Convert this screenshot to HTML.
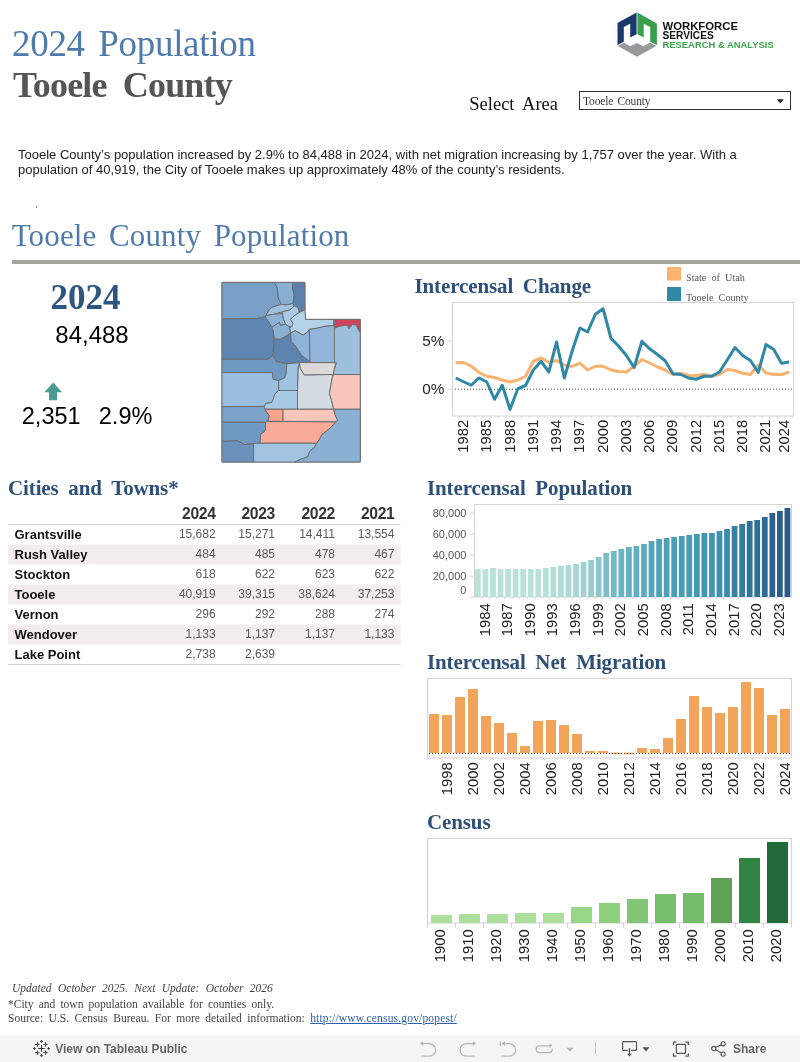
<!DOCTYPE html>
<html><head><meta charset="utf-8">
<style>
html,body{margin:0;padding:0;background:#fff;}
body{width:800px;height:1062px;position:relative;overflow:hidden;will-change:transform;font-family:"Liberation Sans", sans-serif;}
.a{position:absolute;white-space:nowrap;line-height:1;}
svg.full{position:absolute;left:0;top:0;}
</style></head><body>

<div class="a" style="left:12.00px;top:25.21px;font-size:37px;color:#4f7aab;font-family:'Liberation Serif', serif;font-weight:normal;font-style:normal;letter-spacing:-0.3px;word-spacing:4.5px;">2024 Population</div>
<div class="a" style="left:13.00px;top:66.85px;font-size:36px;color:#555555;font-family:'Liberation Serif', serif;font-weight:bold;font-style:normal;letter-spacing:-0.85px;">Tooele&nbsp; County</div>
<div class="a" style="left:469.30px;top:94.51px;font-size:18.5px;color:#111;font-family:'Liberation Serif', serif;font-weight:normal;font-style:normal;word-spacing:4px;">Select Area</div>
<div class="a" style="left:579px;top:91px;width:209.8px;height:17.3px;border:1px solid #333;background:#fff;"></div>
<div class="a" style="left:583.00px;top:96.07px;font-size:11.5px;color:#3a3a3a;font-family:'Liberation Serif', serif;font-weight:normal;font-style:normal;letter-spacing:-0.15px;word-spacing:1.5px;">Tooele County</div>
<svg class="full" width="800" height="1062">
<polygon points="776.8,99.2 783.8,99.2 780.3,103.2" fill="#222"/>
<polygon points="617.5,23 636.6,12.5 636.6,34.2 630.2,37.6 630.2,23.75 623.8,27.1 623.8,41.8 617.5,44.9" fill="#1b3a6b"/>
<polygon points="637.4,12.5 656.9,23.4 656.9,44.9 650.2,41.8 650.2,27.1 643.75,23.75 643.75,37.6 637.4,34.2" fill="#3a9f4a"/>
<polygon points="617.8,46 624,42.65 630.2,46.3 636.9,42.9 643.4,46.3 650.2,42.65 656.3,46 636.9,56.7" fill="#98999b"/>
</svg>
<svg class="full" width="800" height="1062">
<text x="662.5" y="30" font-family="'Liberation Sans', sans-serif" font-weight="bold" font-size="10.4" fill="#111" textLength="75.5" lengthAdjust="spacingAndGlyphs">WORKFORCE</text>
<text x="662.5" y="38.8" font-family="'Liberation Sans', sans-serif" font-weight="bold" font-size="10.4" fill="#111" textLength="51.3" lengthAdjust="spacingAndGlyphs">SERVICES</text>
<text x="662.5" y="48" font-family="'Liberation Sans', sans-serif" font-weight="bold" font-size="9.6" fill="#3fa34d" textLength="111.2" lengthAdjust="spacingAndGlyphs">RESEARCH &amp; ANALYSIS</text>
</svg>
<div class="a" style="left:18.00px;top:148.00px;font-size:13px;color:#222;font-family:'Liberation Sans', sans-serif;font-weight:normal;font-style:normal;">Tooele County’s population increased by 2.9% to 84,488 in 2024, with net migration increasing by 1,757 over the year. With a</div>
<div class="a" style="left:18.00px;top:163.00px;font-size:13px;color:#222;font-family:'Liberation Sans', sans-serif;font-weight:normal;font-style:normal;">population of 40,919, the City of Tooele makes up approximately 48% of the county’s residents.</div>
<div class="a" style="left:36px;top:206px;width:1px;height:2px;background:#888;"></div>
<div class="a" style="left:11.70px;top:219.74px;font-size:31px;color:#4f7aab;font-family:'Liberation Serif', serif;font-weight:normal;font-style:normal;word-spacing:4.6px;letter-spacing:0.15px;">Tooele County Population</div>
<div class="a" style="left:12px;top:260px;width:788px;height:4px;background:#a4a69a;"></div>
<div class="a" style="left:50.40px;top:280.29px;font-size:35px;color:#2f5581;font-family:'Liberation Serif', serif;font-weight:bold;font-style:normal;">2024</div>
<div class="a" style="left:55.30px;top:323.28px;font-size:24px;color:#000;font-family:'Liberation Sans', sans-serif;font-weight:normal;font-style:normal;">84,488</div>
<div class="a" style="left:21.80px;top:404.91px;font-size:23.5px;color:#000;font-family:'Liberation Sans', sans-serif;font-weight:normal;font-style:normal;">2,351</div>
<div class="a" style="left:98.80px;top:404.91px;font-size:23.5px;color:#000;font-family:'Liberation Sans', sans-serif;font-weight:normal;font-style:normal;">2.9%</div>
<svg class="full" width="800" height="1062">
<polygon points="53.2,382.6 62,392.3 57,392.3 57,400.2 49,400.2 49,392.3 44.4,392.3" fill="#4a9a91"/>
<polygon points="222,282.4 304.9,282.4 304.9,319.4 360.25,319.4 360.25,462 222,462" fill="#8ab0d4" stroke="#6e6e6e" stroke-width="1"/>
<g stroke="#6e6e6e" stroke-width="1" stroke-linejoin="round">
<polygon fill="#79a1c8" points="222,282.4 274.25,282.4 277.4,288 278,296.75 281.1,304.25 279.25,304.9 271.75,307.4 269.25,309.9 264.9,316.75 256.75,318.6 222,319"/>
<polygon fill="#88afd4" points="274.25,282.4 293,282.4 292.4,288 294.25,294.25 293,303.6 286.1,304.9 281.1,304.25 278,296.75 277.4,288"/>
<polygon fill="#5a81ab" points="293,282.4 304.9,282.4 304.9,309.9 299.25,312.4 298,307.4 294.25,306.1 293,303.6 294.25,294.25 292.4,288"/>
<polygon fill="#9fc1e0" points="279.25,304.9 281.1,304.25 286.1,304.9 293,303.6 294.25,306.1 289.9,309.9 282.4,311.75 273.6,314.25 266.75,315.5 264.9,316.75 269.25,309.9 271.75,307.4"/>
<polygon fill="#a9cae6" points="282.4,311.75 289.9,309.9 294.25,306.1 298,307.4 299.25,312.4 293,316.75 290.5,319.25 293,323.6 291.75,326.75 288.6,326.1 285.5,324.25 283.6,319.9 282.4,314.25"/>
<polygon fill="#8db3d7" points="264.9,316.75 266.75,315.5 273.6,314.25 282.4,313.6 283.6,319.9 285.5,324.25 280.5,325.5 279.25,322.4 271.75,327.4 269.25,323 266.1,318"/>
<polygon fill="#8ab0d4" points="271.75,327.4 279.25,322.4 280.5,325.5 285.5,324.25 288.6,326.1 289.9,328 290.5,333 286.1,336.1 280.5,339.25 274.25,339.25 273,330.5"/>
<polygon fill="#5e86b0" points="222,319 256.75,318.6 264.9,316.75 266.1,318 269.25,323 271.75,327.4 273,330.5 274.25,339.25 273.6,346.75 273,355.5 268,359.25 222,359.25"/>
<polygon fill="#5d84ae" points="274.25,339.25 280.5,339.25 286.1,336.1 290.5,333 291.25,341.25 295,345 298.1,350 301.9,355.6 306.25,358.75 310.5,361 310.5,362.6 299.4,362.6 290,363.5 286.75,363.9 280.5,362.5 276,361 273,355.5 273.6,346.75"/>
<polygon fill="#8db3d6" points="290.5,333 295,330.6 300,333.1 303.1,335 307.5,331.9 309.4,329.4 310,361.9 306.25,358.75 301.9,355.6 298.1,350 295,345 291.25,341.25"/>
<polygon fill="#b3d2ea" points="305.6,319.4 333.75,319.4 333.75,325.6 325,326.25 317.5,328.1 309.4,329.4 307.5,331.9 303.1,335 300,333.1 295,330.6 290.5,333 289.9,328 291.75,326.75 293,323.6 290.5,319.25 293,316.75 299.25,312.4 304.9,309.9"/>
<polygon fill="#d0435d" points="334.4,319.4 360.25,319.4 360.25,332.5 358.1,329.4 356.25,325 352.5,324.4 348.75,328.75 347.5,325 340,326.25 334.4,328.1"/>
<polygon fill="#9dc0de" points="334.4,328.1 340,326.25 347.5,325 348.75,328.75 352.5,324.4 356.25,325 358.1,329.4 360.25,332.5 360.25,375 333.75,375 333.1,372.5 336.25,363.75 334.4,362.6"/>
<polygon fill="#91b6da" points="309.4,329.4 317.5,328.1 325,326.25 333.75,325.6 334.4,328.1 334.4,362.6 310.5,362.6 310,361.9"/>
<polygon fill="#ddd9d8" points="299.4,362.6 336.25,362.6 335,365.75 333.1,374.5 304.4,375.1 300,368.25"/>
<polygon fill="#d5dbe2" points="299.4,362.6 300,368.25 304.4,375.1 333.1,374.5 331.9,380 329.4,393.25 331.25,399.5 333.75,409.25 297.5,409.25 297.5,390.5 298,368"/>
<polygon fill="#f7c6bb" points="333.1,374.5 360.25,374.5 360.25,409.25 333.75,409.25 331.25,399.5 329.4,393.25 331.9,380"/>
<polygon fill="#6f98c2" points="222,359.25 268,359.25 273,355.5 276,361 280.5,362.5 286.75,363.9 286.1,374.5 284.25,378.25 278.6,380.5 273,379.5 272.4,372.6 222,372.6"/>
<polygon fill="#9fc2e0" points="286.75,363.9 290,363.5 299.4,362.6 298,368 297.5,390.5 278.6,390.5 278.6,380.5 284.25,378.25 286.1,374.5"/>
<polygon fill="#9bbfdf" points="222,372.6 272.4,372.6 273,379.5 278.6,380.5 278.6,390.5 274.9,393.9 273,399.5 271.75,402.6 266.1,403.25 264.25,406.4 222,406.75"/>
<polygon fill="#a6c9e6" points="278.6,390.5 297.5,390.5 297.5,409.25 264.9,409.25 264.25,406.4 266.1,403.25 271.75,402.6 273,399.5 274.9,393.9"/>
<polygon fill="#7ba3c9" points="222,406.75 264.25,406.4 264.9,409.25 269.25,415.75 268,422.3 222,422.3"/>
<polygon fill="#f9a28c" points="264.9,409.25 283.1,409.25 283.1,421.4 268,421.4 269.25,415.75"/>
<polygon fill="#f6c6bb" points="283.1,409.25 333.75,409.25 335,414.5 337.5,420.1 335.6,422 283.1,421.4"/>
<polygon fill="#f8aa98" points="268,421.4 283.1,421.4 335.6,422 331.25,427 326.25,431.4 321.9,434.5 320,438.25 316.9,443.25 259.9,443.25 260.5,434.25 265.5,430.5 265.5,422.3"/>
<polygon fill="#7099c3" points="222,422.3 265.5,422.3 265.5,430.5 260.5,434.25 259.9,443.25 253.6,443.9 244.25,444.5 237.4,440.75 222,441.4"/>
<polygon fill="#6a91bb" points="222,441.4 237.4,440.75 244.25,444.5 253.6,443.9 253.6,462 222,462"/>
<polygon fill="#a0c3e1" points="253.6,443.25 316.9,443.25 313.75,448.25 310,450.75 307.5,457 300,459.5 295,462 253.6,462"/>
<polygon fill="#8ab1d4" points="333.75,409.25 360.25,409.25 360.25,462 295,462 300,459.5 307.5,457 310,450.75 313.75,448.25 316.9,443.25 320,438.25 321.9,434.5 326.25,431.4 331.25,427 335.6,422 337.5,420.1 335,414.5"/>
</g>
<rect x="452.5" y="302.5" width="341" height="113.5" fill="none" stroke="#d4d4d4" stroke-width="1"/>
<line x1="447.3" y1="341.1" x2="452.5" y2="341.1" stroke="#d4d4d4" stroke-width="1"/>
<line x1="447.3" y1="389.2" x2="452.5" y2="389.2" stroke="#d4d4d4" stroke-width="1"/>
<line x1="455" y1="389.2" x2="793" y2="389.2" stroke="#444" stroke-width="1" stroke-dasharray="1 2"/>
<polyline fill="none" stroke="#f9b26f" stroke-width="3" stroke-linejoin="round" points="455.75,362.75 463.51,362.5 471.26,366.25 479.02,372.5 486.77,376.25 494.53,377.5 502.29,380 510.04,382 517.80,380 525.55,376.25 533.31,361.25 541.07,358 548.82,362.5 556.58,360.5 564.33,365 572.09,366.5 579.85,363 587.60,370 595.36,366.25 603.11,366.25 610.87,370 618.63,371.5 626.38,372 634.14,366.25 641.89,359.5 649.65,363 657.41,367 665.16,370 672.92,374.5 680.67,373.25 688.43,375.5 696.19,375.75 703.94,374.25 711.70,376.25 719.45,374.25 727.21,369.5 734.97,370.5 742.72,373.25 750.48,374.5 758.23,365 765.99,373 773.75,374.5 781.50,374.5 789.26,372"/>
<polyline fill="none" stroke="#2f88a6" stroke-width="3" stroke-linejoin="round" points="455.75,378 463.51,381.75 471.26,385.25 479.02,378 486.77,382 494.53,399.25 502.29,385.25 510.04,409.5 517.80,388.75 525.55,385.5 533.31,370 541.07,361.25 548.82,372 556.58,342 564.33,378 572.09,351.25 579.85,328 587.60,332 595.36,314.25 603.11,308.75 610.87,338 618.63,346.25 626.38,355.5 634.14,367.5 641.89,341.25 649.65,348.75 657.41,354.5 665.16,360.75 672.92,373.75 680.67,374.5 688.43,378 696.19,379.25 703.94,376.25 711.70,376.25 719.45,372 727.21,360 734.97,347.5 742.72,355.5 750.48,360.5 758.23,372.5 765.99,344.5 773.75,349.5 781.50,363.25 789.26,362"/>
<line x1="459.63" y1="416" x2="459.63" y2="418" stroke="#d4d4d4" stroke-width="1"/>
<line x1="467.38" y1="416" x2="467.38" y2="418" stroke="#d4d4d4" stroke-width="1"/>
<line x1="475.14" y1="416" x2="475.14" y2="418" stroke="#d4d4d4" stroke-width="1"/>
<line x1="482.90" y1="416" x2="482.90" y2="418" stroke="#d4d4d4" stroke-width="1"/>
<line x1="490.65" y1="416" x2="490.65" y2="418" stroke="#d4d4d4" stroke-width="1"/>
<line x1="498.41" y1="416" x2="498.41" y2="418" stroke="#d4d4d4" stroke-width="1"/>
<line x1="506.16" y1="416" x2="506.16" y2="418" stroke="#d4d4d4" stroke-width="1"/>
<line x1="513.92" y1="416" x2="513.92" y2="418" stroke="#d4d4d4" stroke-width="1"/>
<line x1="521.68" y1="416" x2="521.68" y2="418" stroke="#d4d4d4" stroke-width="1"/>
<line x1="529.43" y1="416" x2="529.43" y2="418" stroke="#d4d4d4" stroke-width="1"/>
<line x1="537.19" y1="416" x2="537.19" y2="418" stroke="#d4d4d4" stroke-width="1"/>
<line x1="544.94" y1="416" x2="544.94" y2="418" stroke="#d4d4d4" stroke-width="1"/>
<line x1="552.70" y1="416" x2="552.70" y2="418" stroke="#d4d4d4" stroke-width="1"/>
<line x1="560.46" y1="416" x2="560.46" y2="418" stroke="#d4d4d4" stroke-width="1"/>
<line x1="568.21" y1="416" x2="568.21" y2="418" stroke="#d4d4d4" stroke-width="1"/>
<line x1="575.97" y1="416" x2="575.97" y2="418" stroke="#d4d4d4" stroke-width="1"/>
<line x1="583.72" y1="416" x2="583.72" y2="418" stroke="#d4d4d4" stroke-width="1"/>
<line x1="591.48" y1="416" x2="591.48" y2="418" stroke="#d4d4d4" stroke-width="1"/>
<line x1="599.24" y1="416" x2="599.24" y2="418" stroke="#d4d4d4" stroke-width="1"/>
<line x1="606.99" y1="416" x2="606.99" y2="418" stroke="#d4d4d4" stroke-width="1"/>
<line x1="614.75" y1="416" x2="614.75" y2="418" stroke="#d4d4d4" stroke-width="1"/>
<line x1="622.50" y1="416" x2="622.50" y2="418" stroke="#d4d4d4" stroke-width="1"/>
<line x1="630.26" y1="416" x2="630.26" y2="418" stroke="#d4d4d4" stroke-width="1"/>
<line x1="638.02" y1="416" x2="638.02" y2="418" stroke="#d4d4d4" stroke-width="1"/>
<line x1="645.77" y1="416" x2="645.77" y2="418" stroke="#d4d4d4" stroke-width="1"/>
<line x1="653.53" y1="416" x2="653.53" y2="418" stroke="#d4d4d4" stroke-width="1"/>
<line x1="661.28" y1="416" x2="661.28" y2="418" stroke="#d4d4d4" stroke-width="1"/>
<line x1="669.04" y1="416" x2="669.04" y2="418" stroke="#d4d4d4" stroke-width="1"/>
<line x1="676.80" y1="416" x2="676.80" y2="418" stroke="#d4d4d4" stroke-width="1"/>
<line x1="684.55" y1="416" x2="684.55" y2="418" stroke="#d4d4d4" stroke-width="1"/>
<line x1="692.31" y1="416" x2="692.31" y2="418" stroke="#d4d4d4" stroke-width="1"/>
<line x1="700.06" y1="416" x2="700.06" y2="418" stroke="#d4d4d4" stroke-width="1"/>
<line x1="707.82" y1="416" x2="707.82" y2="418" stroke="#d4d4d4" stroke-width="1"/>
<line x1="715.58" y1="416" x2="715.58" y2="418" stroke="#d4d4d4" stroke-width="1"/>
<line x1="723.33" y1="416" x2="723.33" y2="418" stroke="#d4d4d4" stroke-width="1"/>
<line x1="731.09" y1="416" x2="731.09" y2="418" stroke="#d4d4d4" stroke-width="1"/>
<line x1="738.84" y1="416" x2="738.84" y2="418" stroke="#d4d4d4" stroke-width="1"/>
<line x1="746.60" y1="416" x2="746.60" y2="418" stroke="#d4d4d4" stroke-width="1"/>
<line x1="754.36" y1="416" x2="754.36" y2="418" stroke="#d4d4d4" stroke-width="1"/>
<line x1="762.11" y1="416" x2="762.11" y2="418" stroke="#d4d4d4" stroke-width="1"/>
<line x1="769.87" y1="416" x2="769.87" y2="418" stroke="#d4d4d4" stroke-width="1"/>
<line x1="777.62" y1="416" x2="777.62" y2="418" stroke="#d4d4d4" stroke-width="1"/>
<line x1="785.38" y1="416" x2="785.38" y2="418" stroke="#d4d4d4" stroke-width="1"/>
<line x1="793.14" y1="416" x2="793.14" y2="418" stroke="#d4d4d4" stroke-width="1"/>
<text x="444.3" y="346.1" font-family="'Liberation Sans', sans-serif" font-size="15.3" fill="#222" text-anchor="end">5%</text>
<text x="444.3" y="393.9" font-family="'Liberation Sans', sans-serif" font-size="15.3" fill="#222" text-anchor="end">0%</text>
<text transform="translate(468.01,419.8) rotate(-90)" font-family="'Liberation Sans', sans-serif" font-size="14.8" fill="#222" text-anchor="end">1982</text>
<text transform="translate(491.27,419.8) rotate(-90)" font-family="'Liberation Sans', sans-serif" font-size="14.8" fill="#222" text-anchor="end">1985</text>
<text transform="translate(514.54,419.8) rotate(-90)" font-family="'Liberation Sans', sans-serif" font-size="14.8" fill="#222" text-anchor="end">1988</text>
<text transform="translate(537.81,419.8) rotate(-90)" font-family="'Liberation Sans', sans-serif" font-size="14.8" fill="#222" text-anchor="end">1991</text>
<text transform="translate(561.08,419.8) rotate(-90)" font-family="'Liberation Sans', sans-serif" font-size="14.8" fill="#222" text-anchor="end">1994</text>
<text transform="translate(584.35,419.8) rotate(-90)" font-family="'Liberation Sans', sans-serif" font-size="14.8" fill="#222" text-anchor="end">1997</text>
<text transform="translate(607.61,419.8) rotate(-90)" font-family="'Liberation Sans', sans-serif" font-size="14.8" fill="#222" text-anchor="end">2000</text>
<text transform="translate(630.88,419.8) rotate(-90)" font-family="'Liberation Sans', sans-serif" font-size="14.8" fill="#222" text-anchor="end">2003</text>
<text transform="translate(654.15,419.8) rotate(-90)" font-family="'Liberation Sans', sans-serif" font-size="14.8" fill="#222" text-anchor="end">2006</text>
<text transform="translate(677.42,419.8) rotate(-90)" font-family="'Liberation Sans', sans-serif" font-size="14.8" fill="#222" text-anchor="end">2009</text>
<text transform="translate(700.69,419.8) rotate(-90)" font-family="'Liberation Sans', sans-serif" font-size="14.8" fill="#222" text-anchor="end">2012</text>
<text transform="translate(723.95,419.8) rotate(-90)" font-family="'Liberation Sans', sans-serif" font-size="14.8" fill="#222" text-anchor="end">2015</text>
<text transform="translate(747.22,419.8) rotate(-90)" font-family="'Liberation Sans', sans-serif" font-size="14.8" fill="#222" text-anchor="end">2018</text>
<text transform="translate(770.49,419.8) rotate(-90)" font-family="'Liberation Sans', sans-serif" font-size="14.8" fill="#222" text-anchor="end">2021</text>
<text transform="translate(789.16,419.8) rotate(-90)" font-family="'Liberation Sans', sans-serif" font-size="14.8" fill="#222" text-anchor="end">2024</text>
<rect x="667" y="267" width="14" height="13.6" fill="#f9b26f"/>
<rect x="667" y="287" width="14" height="14" fill="#2f88a6"/>
<text x="686" y="280.6" font-family="'Liberation Serif', serif" font-size="10.2" fill="#555" word-spacing="2.5">State of Utah</text>
<text x="686" y="300.6" font-family="'Liberation Serif', serif" font-size="10.2" fill="#555" word-spacing="2.5">Tooele County</text>
<rect x="474.5" y="504.5" width="317" height="92.5" fill="none" stroke="#d4d4d4" stroke-width="1"/>
<line x1="469.5" y1="513.25" x2="474.5" y2="513.25" stroke="#d4d4d4" stroke-width="1"/>
<text x="466.4" y="517.05" font-family="'Liberation Sans', sans-serif" font-size="11" fill="#555" text-anchor="end">80,000</text>
<line x1="469.5" y1="534.25" x2="474.5" y2="534.25" stroke="#d4d4d4" stroke-width="1"/>
<text x="466.4" y="538.05" font-family="'Liberation Sans', sans-serif" font-size="11" fill="#555" text-anchor="end">60,000</text>
<line x1="469.5" y1="555.25" x2="474.5" y2="555.25" stroke="#d4d4d4" stroke-width="1"/>
<text x="466.4" y="559.05" font-family="'Liberation Sans', sans-serif" font-size="11" fill="#555" text-anchor="end">40,000</text>
<line x1="469.5" y1="576.25" x2="474.5" y2="576.25" stroke="#d4d4d4" stroke-width="1"/>
<text x="466.4" y="580.05" font-family="'Liberation Sans', sans-serif" font-size="11" fill="#555" text-anchor="end">20,000</text>
<text x="466.4" y="593.7" font-family="'Liberation Sans', sans-serif" font-size="11" fill="#555" text-anchor="end">0</text>
<line x1="469.5" y1="597" x2="474.5" y2="597" stroke="#d4d4d4" stroke-width="1"/>
<rect x="475.0" y="569" width="5.75" height="28" fill="#bae3d8"/>
<rect x="482.55" y="569" width="5.75" height="28" fill="#bae3d8"/>
<rect x="490.1" y="568" width="5.75" height="29" fill="#b6e1d7"/>
<rect x="497.65" y="569" width="5.75" height="28" fill="#bae3d8"/>
<rect x="505.2" y="569" width="5.75" height="28" fill="#bae3d8"/>
<rect x="512.75" y="569" width="5.75" height="28" fill="#bae3d8"/>
<rect x="520.3" y="569" width="5.75" height="28" fill="#bae3d8"/>
<rect x="527.85" y="569" width="5.75" height="28" fill="#bae3d8"/>
<rect x="535.4" y="569" width="5.75" height="28" fill="#bae3d8"/>
<rect x="542.95" y="568" width="5.75" height="29" fill="#b6e1d7"/>
<rect x="550.5" y="567" width="5.75" height="30" fill="#b2ded6"/>
<rect x="558.05" y="566" width="5.75" height="31" fill="#afdcd5"/>
<rect x="565.6" y="565" width="5.75" height="32" fill="#abd9d4"/>
<rect x="573.15" y="564" width="5.75" height="33" fill="#a7d7d3"/>
<rect x="580.7" y="562" width="5.75" height="35" fill="#a0d2d2"/>
<rect x="588.25" y="560" width="5.75" height="37" fill="#98cdd0"/>
<rect x="595.8" y="557" width="5.75" height="40" fill="#8dc5cd"/>
<rect x="603.35" y="553" width="5.75" height="44" fill="#7cbdc8"/>
<rect x="610.9" y="551" width="5.75" height="46" fill="#73b9c6"/>
<rect x="618.45" y="549" width="5.75" height="48" fill="#6bb4c3"/>
<rect x="626.0" y="547" width="5.75" height="50" fill="#65b0c1"/>
<rect x="633.55" y="546" width="5.75" height="51" fill="#63afc0"/>
<rect x="641.1" y="544" width="5.75" height="53" fill="#5dabbe"/>
<rect x="648.65" y="541" width="5.75" height="56" fill="#55a5ba"/>
<rect x="656.2" y="539" width="5.75" height="58" fill="#50a1b8"/>
<rect x="663.75" y="538" width="5.75" height="59" fill="#4ea0b7"/>
<rect x="671.3" y="537" width="5.75" height="60" fill="#4b9eb6"/>
<rect x="678.85" y="536" width="5.75" height="61" fill="#489cb5"/>
<rect x="686.4" y="535" width="5.75" height="62" fill="#469ab4"/>
<rect x="693.95" y="534" width="5.75" height="63" fill="#4398b3"/>
<rect x="701.5" y="533" width="5.75" height="64" fill="#4196b2"/>
<rect x="709.05" y="533" width="5.75" height="64" fill="#4196b2"/>
<rect x="716.6" y="531" width="5.75" height="66" fill="#3d91ae"/>
<rect x="724.15" y="529" width="5.75" height="68" fill="#3b8baa"/>
<rect x="731.7" y="526" width="5.75" height="71" fill="#3782a4"/>
<rect x="739.25" y="524" width="5.75" height="73" fill="#347ca0"/>
<rect x="746.8" y="521" width="5.75" height="76" fill="#30729a"/>
<rect x="754.35" y="520" width="5.75" height="77" fill="#2f7098"/>
<rect x="761.9" y="517" width="5.75" height="80" fill="#2e6a93"/>
<rect x="769.45" y="513" width="5.75" height="84" fill="#2d628d"/>
<rect x="777.0" y="511" width="5.75" height="86" fill="#2d5f8a"/>
<rect x="784.55" y="508" width="5.75" height="89" fill="#2c5985"/>
<line x1="481.85" y1="597" x2="481.85" y2="599" stroke="#d4d4d4" stroke-width="1"/>
<line x1="489.40" y1="597" x2="489.40" y2="599" stroke="#d4d4d4" stroke-width="1"/>
<line x1="496.95" y1="597" x2="496.95" y2="599" stroke="#d4d4d4" stroke-width="1"/>
<line x1="504.50" y1="597" x2="504.50" y2="599" stroke="#d4d4d4" stroke-width="1"/>
<line x1="512.05" y1="597" x2="512.05" y2="599" stroke="#d4d4d4" stroke-width="1"/>
<line x1="519.60" y1="597" x2="519.60" y2="599" stroke="#d4d4d4" stroke-width="1"/>
<line x1="527.15" y1="597" x2="527.15" y2="599" stroke="#d4d4d4" stroke-width="1"/>
<line x1="534.70" y1="597" x2="534.70" y2="599" stroke="#d4d4d4" stroke-width="1"/>
<line x1="542.25" y1="597" x2="542.25" y2="599" stroke="#d4d4d4" stroke-width="1"/>
<line x1="549.80" y1="597" x2="549.80" y2="599" stroke="#d4d4d4" stroke-width="1"/>
<line x1="557.35" y1="597" x2="557.35" y2="599" stroke="#d4d4d4" stroke-width="1"/>
<line x1="564.90" y1="597" x2="564.90" y2="599" stroke="#d4d4d4" stroke-width="1"/>
<line x1="572.45" y1="597" x2="572.45" y2="599" stroke="#d4d4d4" stroke-width="1"/>
<line x1="580.00" y1="597" x2="580.00" y2="599" stroke="#d4d4d4" stroke-width="1"/>
<line x1="587.55" y1="597" x2="587.55" y2="599" stroke="#d4d4d4" stroke-width="1"/>
<line x1="595.10" y1="597" x2="595.10" y2="599" stroke="#d4d4d4" stroke-width="1"/>
<line x1="602.65" y1="597" x2="602.65" y2="599" stroke="#d4d4d4" stroke-width="1"/>
<line x1="610.20" y1="597" x2="610.20" y2="599" stroke="#d4d4d4" stroke-width="1"/>
<line x1="617.75" y1="597" x2="617.75" y2="599" stroke="#d4d4d4" stroke-width="1"/>
<line x1="625.30" y1="597" x2="625.30" y2="599" stroke="#d4d4d4" stroke-width="1"/>
<line x1="632.85" y1="597" x2="632.85" y2="599" stroke="#d4d4d4" stroke-width="1"/>
<line x1="640.40" y1="597" x2="640.40" y2="599" stroke="#d4d4d4" stroke-width="1"/>
<line x1="647.95" y1="597" x2="647.95" y2="599" stroke="#d4d4d4" stroke-width="1"/>
<line x1="655.50" y1="597" x2="655.50" y2="599" stroke="#d4d4d4" stroke-width="1"/>
<line x1="663.05" y1="597" x2="663.05" y2="599" stroke="#d4d4d4" stroke-width="1"/>
<line x1="670.60" y1="597" x2="670.60" y2="599" stroke="#d4d4d4" stroke-width="1"/>
<line x1="678.15" y1="597" x2="678.15" y2="599" stroke="#d4d4d4" stroke-width="1"/>
<line x1="685.70" y1="597" x2="685.70" y2="599" stroke="#d4d4d4" stroke-width="1"/>
<line x1="693.25" y1="597" x2="693.25" y2="599" stroke="#d4d4d4" stroke-width="1"/>
<line x1="700.80" y1="597" x2="700.80" y2="599" stroke="#d4d4d4" stroke-width="1"/>
<line x1="708.35" y1="597" x2="708.35" y2="599" stroke="#d4d4d4" stroke-width="1"/>
<line x1="715.90" y1="597" x2="715.90" y2="599" stroke="#d4d4d4" stroke-width="1"/>
<line x1="723.45" y1="597" x2="723.45" y2="599" stroke="#d4d4d4" stroke-width="1"/>
<line x1="731.00" y1="597" x2="731.00" y2="599" stroke="#d4d4d4" stroke-width="1"/>
<line x1="738.55" y1="597" x2="738.55" y2="599" stroke="#d4d4d4" stroke-width="1"/>
<line x1="746.10" y1="597" x2="746.10" y2="599" stroke="#d4d4d4" stroke-width="1"/>
<line x1="753.65" y1="597" x2="753.65" y2="599" stroke="#d4d4d4" stroke-width="1"/>
<line x1="761.20" y1="597" x2="761.20" y2="599" stroke="#d4d4d4" stroke-width="1"/>
<line x1="768.75" y1="597" x2="768.75" y2="599" stroke="#d4d4d4" stroke-width="1"/>
<line x1="776.30" y1="597" x2="776.30" y2="599" stroke="#d4d4d4" stroke-width="1"/>
<line x1="783.85" y1="597" x2="783.85" y2="599" stroke="#d4d4d4" stroke-width="1"/>
<text transform="translate(489.50,603.3) rotate(-90)" font-family="'Liberation Sans', sans-serif" font-size="14.8" fill="#222" text-anchor="end">1984</text>
<text transform="translate(512.15,603.3) rotate(-90)" font-family="'Liberation Sans', sans-serif" font-size="14.8" fill="#222" text-anchor="end">1987</text>
<text transform="translate(534.80,603.3) rotate(-90)" font-family="'Liberation Sans', sans-serif" font-size="14.8" fill="#222" text-anchor="end">1990</text>
<text transform="translate(557.45,603.3) rotate(-90)" font-family="'Liberation Sans', sans-serif" font-size="14.8" fill="#222" text-anchor="end">1993</text>
<text transform="translate(580.10,603.3) rotate(-90)" font-family="'Liberation Sans', sans-serif" font-size="14.8" fill="#222" text-anchor="end">1996</text>
<text transform="translate(602.75,603.3) rotate(-90)" font-family="'Liberation Sans', sans-serif" font-size="14.8" fill="#222" text-anchor="end">1999</text>
<text transform="translate(625.40,603.3) rotate(-90)" font-family="'Liberation Sans', sans-serif" font-size="14.8" fill="#222" text-anchor="end">2002</text>
<text transform="translate(648.05,603.3) rotate(-90)" font-family="'Liberation Sans', sans-serif" font-size="14.8" fill="#222" text-anchor="end">2005</text>
<text transform="translate(670.70,603.3) rotate(-90)" font-family="'Liberation Sans', sans-serif" font-size="14.8" fill="#222" text-anchor="end">2008</text>
<text transform="translate(693.35,603.3) rotate(-90)" font-family="'Liberation Sans', sans-serif" font-size="14.8" fill="#222" text-anchor="end">2011</text>
<text transform="translate(716.00,603.3) rotate(-90)" font-family="'Liberation Sans', sans-serif" font-size="14.8" fill="#222" text-anchor="end">2014</text>
<text transform="translate(738.65,603.3) rotate(-90)" font-family="'Liberation Sans', sans-serif" font-size="14.8" fill="#222" text-anchor="end">2017</text>
<text transform="translate(761.30,603.3) rotate(-90)" font-family="'Liberation Sans', sans-serif" font-size="14.8" fill="#222" text-anchor="end">2020</text>
<text transform="translate(783.95,603.3) rotate(-90)" font-family="'Liberation Sans', sans-serif" font-size="14.8" fill="#222" text-anchor="end">2023</text>
<rect x="427.5" y="678.5" width="364" height="79.5" fill="none" stroke="#d4d4d4" stroke-width="1"/>
<rect x="429.00" y="714" width="10" height="39" fill="#f2a55a"/>
<rect x="442.00" y="715" width="10" height="38" fill="#f2a55a"/>
<rect x="455.00" y="697" width="10" height="56" fill="#f2a55a"/>
<rect x="468.00" y="689" width="10" height="64" fill="#f2a55a"/>
<rect x="481.00" y="716" width="10" height="37" fill="#f2a55a"/>
<rect x="494.00" y="723" width="10" height="30" fill="#f2a55a"/>
<rect x="507.00" y="733" width="10" height="20" fill="#f2a55a"/>
<rect x="520.00" y="746" width="10" height="7" fill="#f2a55a"/>
<rect x="533.00" y="721" width="10" height="32" fill="#f2a55a"/>
<rect x="546.00" y="720" width="10" height="33" fill="#f2a55a"/>
<rect x="559.00" y="725" width="10" height="28" fill="#f2a55a"/>
<rect x="572.00" y="734" width="10" height="19" fill="#f2a55a"/>
<rect x="585.00" y="751" width="10" height="2" fill="#f2a55a"/>
<rect x="598.00" y="751" width="10" height="2" fill="#f2a55a"/>
<rect x="611.00" y="752.6" width="10" height="1.6" fill="#f2a55a"/>
<rect x="624.00" y="752.6" width="10" height="1.6" fill="#f2a55a"/>
<rect x="637.00" y="748" width="10" height="5" fill="#f2a55a"/>
<rect x="650.00" y="749" width="10" height="4" fill="#f2a55a"/>
<rect x="663.00" y="738" width="10" height="15" fill="#f2a55a"/>
<rect x="676.00" y="719" width="10" height="34" fill="#f2a55a"/>
<rect x="689.00" y="696" width="10" height="57" fill="#f2a55a"/>
<rect x="702.00" y="707" width="10" height="46" fill="#f2a55a"/>
<rect x="715.00" y="713" width="10" height="40" fill="#f2a55a"/>
<rect x="728.00" y="707" width="10" height="46" fill="#f2a55a"/>
<rect x="741.00" y="682" width="10" height="71" fill="#f2a55a"/>
<rect x="754.00" y="688" width="10" height="65" fill="#f2a55a"/>
<rect x="767.00" y="715" width="10" height="38" fill="#f2a55a"/>
<rect x="780.00" y="709" width="10" height="44" fill="#f2a55a"/>
<line x1="429" y1="753.5" x2="791" y2="753.5" stroke="#444" stroke-width="1" stroke-dasharray="1 2"/>
<line x1="440.69" y1="758" x2="440.69" y2="760" stroke="#d4d4d4" stroke-width="1"/>
<line x1="453.68" y1="758" x2="453.68" y2="760" stroke="#d4d4d4" stroke-width="1"/>
<line x1="466.67" y1="758" x2="466.67" y2="760" stroke="#d4d4d4" stroke-width="1"/>
<line x1="479.66" y1="758" x2="479.66" y2="760" stroke="#d4d4d4" stroke-width="1"/>
<line x1="492.65" y1="758" x2="492.65" y2="760" stroke="#d4d4d4" stroke-width="1"/>
<line x1="505.64" y1="758" x2="505.64" y2="760" stroke="#d4d4d4" stroke-width="1"/>
<line x1="518.63" y1="758" x2="518.63" y2="760" stroke="#d4d4d4" stroke-width="1"/>
<line x1="531.62" y1="758" x2="531.62" y2="760" stroke="#d4d4d4" stroke-width="1"/>
<line x1="544.61" y1="758" x2="544.61" y2="760" stroke="#d4d4d4" stroke-width="1"/>
<line x1="557.60" y1="758" x2="557.60" y2="760" stroke="#d4d4d4" stroke-width="1"/>
<line x1="570.59" y1="758" x2="570.59" y2="760" stroke="#d4d4d4" stroke-width="1"/>
<line x1="583.58" y1="758" x2="583.58" y2="760" stroke="#d4d4d4" stroke-width="1"/>
<line x1="596.57" y1="758" x2="596.57" y2="760" stroke="#d4d4d4" stroke-width="1"/>
<line x1="609.56" y1="758" x2="609.56" y2="760" stroke="#d4d4d4" stroke-width="1"/>
<line x1="622.55" y1="758" x2="622.55" y2="760" stroke="#d4d4d4" stroke-width="1"/>
<line x1="635.54" y1="758" x2="635.54" y2="760" stroke="#d4d4d4" stroke-width="1"/>
<line x1="648.53" y1="758" x2="648.53" y2="760" stroke="#d4d4d4" stroke-width="1"/>
<line x1="661.52" y1="758" x2="661.52" y2="760" stroke="#d4d4d4" stroke-width="1"/>
<line x1="674.51" y1="758" x2="674.51" y2="760" stroke="#d4d4d4" stroke-width="1"/>
<line x1="687.50" y1="758" x2="687.50" y2="760" stroke="#d4d4d4" stroke-width="1"/>
<line x1="700.49" y1="758" x2="700.49" y2="760" stroke="#d4d4d4" stroke-width="1"/>
<line x1="713.48" y1="758" x2="713.48" y2="760" stroke="#d4d4d4" stroke-width="1"/>
<line x1="726.47" y1="758" x2="726.47" y2="760" stroke="#d4d4d4" stroke-width="1"/>
<line x1="739.46" y1="758" x2="739.46" y2="760" stroke="#d4d4d4" stroke-width="1"/>
<line x1="752.45" y1="758" x2="752.45" y2="760" stroke="#d4d4d4" stroke-width="1"/>
<line x1="765.44" y1="758" x2="765.44" y2="760" stroke="#d4d4d4" stroke-width="1"/>
<line x1="778.43" y1="758" x2="778.43" y2="760" stroke="#d4d4d4" stroke-width="1"/>
<text transform="translate(451.79,762.3) rotate(-90)" font-family="'Liberation Sans', sans-serif" font-size="14.8" fill="#222" text-anchor="end">1998</text>
<text transform="translate(477.77,762.3) rotate(-90)" font-family="'Liberation Sans', sans-serif" font-size="14.8" fill="#222" text-anchor="end">2000</text>
<text transform="translate(503.75,762.3) rotate(-90)" font-family="'Liberation Sans', sans-serif" font-size="14.8" fill="#222" text-anchor="end">2002</text>
<text transform="translate(529.73,762.3) rotate(-90)" font-family="'Liberation Sans', sans-serif" font-size="14.8" fill="#222" text-anchor="end">2004</text>
<text transform="translate(555.71,762.3) rotate(-90)" font-family="'Liberation Sans', sans-serif" font-size="14.8" fill="#222" text-anchor="end">2006</text>
<text transform="translate(581.69,762.3) rotate(-90)" font-family="'Liberation Sans', sans-serif" font-size="14.8" fill="#222" text-anchor="end">2008</text>
<text transform="translate(607.67,762.3) rotate(-90)" font-family="'Liberation Sans', sans-serif" font-size="14.8" fill="#222" text-anchor="end">2010</text>
<text transform="translate(633.65,762.3) rotate(-90)" font-family="'Liberation Sans', sans-serif" font-size="14.8" fill="#222" text-anchor="end">2012</text>
<text transform="translate(659.63,762.3) rotate(-90)" font-family="'Liberation Sans', sans-serif" font-size="14.8" fill="#222" text-anchor="end">2014</text>
<text transform="translate(685.61,762.3) rotate(-90)" font-family="'Liberation Sans', sans-serif" font-size="14.8" fill="#222" text-anchor="end">2016</text>
<text transform="translate(711.59,762.3) rotate(-90)" font-family="'Liberation Sans', sans-serif" font-size="14.8" fill="#222" text-anchor="end">2018</text>
<text transform="translate(737.57,762.3) rotate(-90)" font-family="'Liberation Sans', sans-serif" font-size="14.8" fill="#222" text-anchor="end">2020</text>
<text transform="translate(763.55,762.3) rotate(-90)" font-family="'Liberation Sans', sans-serif" font-size="14.8" fill="#222" text-anchor="end">2022</text>
<text transform="translate(789.53,762.3) rotate(-90)" font-family="'Liberation Sans', sans-serif" font-size="14.8" fill="#222" text-anchor="end">2024</text>
<rect x="427.5" y="838.5" width="364" height="84.5" fill="none" stroke="#d4d4d4" stroke-width="1"/>
<rect x="431" y="915" width="21" height="8" fill="#addf9c"/>
<line x1="427.5" y1="923" x2="427.5" y2="927.7" stroke="#d4d4d4" stroke-width="1"/>
<text transform="translate(445.40,929.3) rotate(-90)" font-family="'Liberation Sans', sans-serif" font-size="14.8" fill="#222" text-anchor="end">1900</text>
<rect x="459" y="914" width="21" height="9" fill="#addf9c"/>
<line x1="455.5" y1="923" x2="455.5" y2="927.7" stroke="#d4d4d4" stroke-width="1"/>
<text transform="translate(473.40,929.3) rotate(-90)" font-family="'Liberation Sans', sans-serif" font-size="14.8" fill="#222" text-anchor="end">1910</text>
<rect x="487" y="914" width="21" height="9" fill="#addf9c"/>
<line x1="483.5" y1="923" x2="483.5" y2="927.7" stroke="#d4d4d4" stroke-width="1"/>
<text transform="translate(501.40,929.3) rotate(-90)" font-family="'Liberation Sans', sans-serif" font-size="14.8" fill="#222" text-anchor="end">1920</text>
<rect x="515" y="913" width="21" height="10" fill="#addf9c"/>
<line x1="511.5" y1="923" x2="511.5" y2="927.7" stroke="#d4d4d4" stroke-width="1"/>
<text transform="translate(529.40,929.3) rotate(-90)" font-family="'Liberation Sans', sans-serif" font-size="14.8" fill="#222" text-anchor="end">1930</text>
<rect x="543" y="913" width="21" height="10" fill="#addf9c"/>
<line x1="539.5" y1="923" x2="539.5" y2="927.7" stroke="#d4d4d4" stroke-width="1"/>
<text transform="translate(557.40,929.3) rotate(-90)" font-family="'Liberation Sans', sans-serif" font-size="14.8" fill="#222" text-anchor="end">1940</text>
<rect x="571" y="907" width="21" height="16" fill="#98d688"/>
<line x1="567.5" y1="923" x2="567.5" y2="927.7" stroke="#d4d4d4" stroke-width="1"/>
<text transform="translate(585.40,929.3) rotate(-90)" font-family="'Liberation Sans', sans-serif" font-size="14.8" fill="#222" text-anchor="end">1950</text>
<rect x="599" y="903" width="21" height="20" fill="#8fd07f"/>
<line x1="595.5" y1="923" x2="595.5" y2="927.7" stroke="#d4d4d4" stroke-width="1"/>
<text transform="translate(613.40,929.3) rotate(-90)" font-family="'Liberation Sans', sans-serif" font-size="14.8" fill="#222" text-anchor="end">1960</text>
<rect x="627" y="899" width="21" height="24" fill="#82c675"/>
<line x1="623.5" y1="923" x2="623.5" y2="927.7" stroke="#d4d4d4" stroke-width="1"/>
<text transform="translate(641.40,929.3) rotate(-90)" font-family="'Liberation Sans', sans-serif" font-size="14.8" fill="#222" text-anchor="end">1970</text>
<rect x="655" y="894" width="21" height="29" fill="#77bf6c"/>
<line x1="651.5" y1="923" x2="651.5" y2="927.7" stroke="#d4d4d4" stroke-width="1"/>
<text transform="translate(669.40,929.3) rotate(-90)" font-family="'Liberation Sans', sans-serif" font-size="14.8" fill="#222" text-anchor="end">1980</text>
<rect x="683" y="893" width="21" height="30" fill="#75bd6a"/>
<line x1="679.5" y1="923" x2="679.5" y2="927.7" stroke="#d4d4d4" stroke-width="1"/>
<text transform="translate(697.40,929.3) rotate(-90)" font-family="'Liberation Sans', sans-serif" font-size="14.8" fill="#222" text-anchor="end">1990</text>
<rect x="711" y="878" width="21" height="45" fill="#5fa255"/>
<line x1="707.5" y1="923" x2="707.5" y2="927.7" stroke="#d4d4d4" stroke-width="1"/>
<text transform="translate(725.40,929.3) rotate(-90)" font-family="'Liberation Sans', sans-serif" font-size="14.8" fill="#222" text-anchor="end">2000</text>
<rect x="739" y="858" width="21" height="65" fill="#338443"/>
<line x1="735.5" y1="923" x2="735.5" y2="927.7" stroke="#d4d4d4" stroke-width="1"/>
<text transform="translate(753.40,929.3) rotate(-90)" font-family="'Liberation Sans', sans-serif" font-size="14.8" fill="#222" text-anchor="end">2010</text>
<rect x="767" y="842" width="21" height="81" fill="#236a3b"/>
<line x1="763.5" y1="923" x2="763.5" y2="927.7" stroke="#d4d4d4" stroke-width="1"/>
<text transform="translate(781.40,929.3) rotate(-90)" font-family="'Liberation Sans', sans-serif" font-size="14.8" fill="#222" text-anchor="end">2020</text>
<line x1="791.5" y1="923" x2="791.5" y2="927.7" stroke="#d4d4d4" stroke-width="1"/>
<line x1="8" y1="524.5" x2="400.6" y2="524.5" stroke="#d0d0d0" stroke-width="1"/>
<line x1="8" y1="664.5" x2="400.6" y2="664.5" stroke="#d0d0d0" stroke-width="1"/>
<rect x="8" y="544.5" width="392.6" height="20" fill="#f3eded"/>
<rect x="8" y="584.5" width="392.6" height="20" fill="#f3eded"/>
<rect x="8" y="624.5" width="392.6" height="20" fill="#f3eded"/>
</svg>
<div class="a" style="left:414.50px;top:276.41px;font-size:21px;color:#2e5078;font-family:'Liberation Serif', serif;font-weight:bold;font-style:normal;word-spacing:4.6px;letter-spacing:-0.12px;">Intercensal Change</div>
<div class="a" style="left:8.00px;top:478.41px;font-size:21px;color:#2e5078;font-family:'Liberation Serif', serif;font-weight:bold;font-style:normal;word-spacing:4.6px;letter-spacing:-0.12px;">Cities and Towns*</div>
<div class="a" style="left:427.00px;top:478.11px;font-size:21px;color:#2e5078;font-family:'Liberation Serif', serif;font-weight:bold;font-style:normal;word-spacing:4.6px;letter-spacing:-0.12px;">Intercensal Population</div>
<div class="a" style="left:427.00px;top:652.11px;font-size:21px;color:#2e5078;font-family:'Liberation Serif', serif;font-weight:bold;font-style:normal;word-spacing:4.6px;letter-spacing:-0.12px;">Intercensal Net Migration</div>
<div class="a" style="left:427.00px;top:812.41px;font-size:21px;color:#2e5078;font-family:'Liberation Serif', serif;font-weight:bold;font-style:normal;word-spacing:4.6px;letter-spacing:-0.12px;">Census</div>
<div class="a" style="right:584.40px;top:505.61px;font-size:15.7px;color:#333;font-family:'Liberation Sans', sans-serif;font-weight:bold;font-style:normal;letter-spacing:-0.35px;">2024</div>
<div class="a" style="right:525.00px;top:505.61px;font-size:15.7px;color:#333;font-family:'Liberation Sans', sans-serif;font-weight:bold;font-style:normal;letter-spacing:-0.35px;">2023</div>
<div class="a" style="right:465.00px;top:505.61px;font-size:15.7px;color:#333;font-family:'Liberation Sans', sans-serif;font-weight:bold;font-style:normal;letter-spacing:-0.35px;">2022</div>
<div class="a" style="right:405.60px;top:505.61px;font-size:15.7px;color:#333;font-family:'Liberation Sans', sans-serif;font-weight:bold;font-style:normal;letter-spacing:-0.35px;">2021</div>
<div class="a" style="left:14.50px;top:527.80px;font-size:13px;color:#111;font-family:'Liberation Sans', sans-serif;font-weight:bold;font-style:normal;">Grantsville</div>
<div class="a" style="right:584.40px;top:528.04px;font-size:12px;color:#5a5a5a;font-family:'Liberation Sans', sans-serif;font-weight:normal;font-style:normal;">15,682</div>
<div class="a" style="right:525.00px;top:528.04px;font-size:12px;color:#5a5a5a;font-family:'Liberation Sans', sans-serif;font-weight:normal;font-style:normal;">15,271</div>
<div class="a" style="right:465.00px;top:528.04px;font-size:12px;color:#5a5a5a;font-family:'Liberation Sans', sans-serif;font-weight:normal;font-style:normal;">14,411</div>
<div class="a" style="right:405.60px;top:528.04px;font-size:12px;color:#5a5a5a;font-family:'Liberation Sans', sans-serif;font-weight:normal;font-style:normal;">13,554</div>
<div class="a" style="left:14.50px;top:547.80px;font-size:13px;color:#111;font-family:'Liberation Sans', sans-serif;font-weight:bold;font-style:normal;">Rush Valley</div>
<div class="a" style="right:584.40px;top:548.04px;font-size:12px;color:#5a5a5a;font-family:'Liberation Sans', sans-serif;font-weight:normal;font-style:normal;">484</div>
<div class="a" style="right:525.00px;top:548.04px;font-size:12px;color:#5a5a5a;font-family:'Liberation Sans', sans-serif;font-weight:normal;font-style:normal;">485</div>
<div class="a" style="right:465.00px;top:548.04px;font-size:12px;color:#5a5a5a;font-family:'Liberation Sans', sans-serif;font-weight:normal;font-style:normal;">478</div>
<div class="a" style="right:405.60px;top:548.04px;font-size:12px;color:#5a5a5a;font-family:'Liberation Sans', sans-serif;font-weight:normal;font-style:normal;">467</div>
<div class="a" style="left:14.50px;top:567.80px;font-size:13px;color:#111;font-family:'Liberation Sans', sans-serif;font-weight:bold;font-style:normal;">Stockton</div>
<div class="a" style="right:584.40px;top:568.04px;font-size:12px;color:#5a5a5a;font-family:'Liberation Sans', sans-serif;font-weight:normal;font-style:normal;">618</div>
<div class="a" style="right:525.00px;top:568.04px;font-size:12px;color:#5a5a5a;font-family:'Liberation Sans', sans-serif;font-weight:normal;font-style:normal;">622</div>
<div class="a" style="right:465.00px;top:568.04px;font-size:12px;color:#5a5a5a;font-family:'Liberation Sans', sans-serif;font-weight:normal;font-style:normal;">623</div>
<div class="a" style="right:405.60px;top:568.04px;font-size:12px;color:#5a5a5a;font-family:'Liberation Sans', sans-serif;font-weight:normal;font-style:normal;">622</div>
<div class="a" style="left:14.50px;top:587.80px;font-size:13px;color:#111;font-family:'Liberation Sans', sans-serif;font-weight:bold;font-style:normal;">Tooele</div>
<div class="a" style="right:584.40px;top:588.04px;font-size:12px;color:#5a5a5a;font-family:'Liberation Sans', sans-serif;font-weight:normal;font-style:normal;">40,919</div>
<div class="a" style="right:525.00px;top:588.04px;font-size:12px;color:#5a5a5a;font-family:'Liberation Sans', sans-serif;font-weight:normal;font-style:normal;">39,315</div>
<div class="a" style="right:465.00px;top:588.04px;font-size:12px;color:#5a5a5a;font-family:'Liberation Sans', sans-serif;font-weight:normal;font-style:normal;">38,624</div>
<div class="a" style="right:405.60px;top:588.04px;font-size:12px;color:#5a5a5a;font-family:'Liberation Sans', sans-serif;font-weight:normal;font-style:normal;">37,253</div>
<div class="a" style="left:14.50px;top:607.80px;font-size:13px;color:#111;font-family:'Liberation Sans', sans-serif;font-weight:bold;font-style:normal;">Vernon</div>
<div class="a" style="right:584.40px;top:608.04px;font-size:12px;color:#5a5a5a;font-family:'Liberation Sans', sans-serif;font-weight:normal;font-style:normal;">296</div>
<div class="a" style="right:525.00px;top:608.04px;font-size:12px;color:#5a5a5a;font-family:'Liberation Sans', sans-serif;font-weight:normal;font-style:normal;">292</div>
<div class="a" style="right:465.00px;top:608.04px;font-size:12px;color:#5a5a5a;font-family:'Liberation Sans', sans-serif;font-weight:normal;font-style:normal;">288</div>
<div class="a" style="right:405.60px;top:608.04px;font-size:12px;color:#5a5a5a;font-family:'Liberation Sans', sans-serif;font-weight:normal;font-style:normal;">274</div>
<div class="a" style="left:14.50px;top:627.80px;font-size:13px;color:#111;font-family:'Liberation Sans', sans-serif;font-weight:bold;font-style:normal;">Wendover</div>
<div class="a" style="right:584.40px;top:628.04px;font-size:12px;color:#5a5a5a;font-family:'Liberation Sans', sans-serif;font-weight:normal;font-style:normal;">1,133</div>
<div class="a" style="right:525.00px;top:628.04px;font-size:12px;color:#5a5a5a;font-family:'Liberation Sans', sans-serif;font-weight:normal;font-style:normal;">1,137</div>
<div class="a" style="right:465.00px;top:628.04px;font-size:12px;color:#5a5a5a;font-family:'Liberation Sans', sans-serif;font-weight:normal;font-style:normal;">1,137</div>
<div class="a" style="right:405.60px;top:628.04px;font-size:12px;color:#5a5a5a;font-family:'Liberation Sans', sans-serif;font-weight:normal;font-style:normal;">1,133</div>
<div class="a" style="left:14.50px;top:647.80px;font-size:13px;color:#111;font-family:'Liberation Sans', sans-serif;font-weight:bold;font-style:normal;">Lake Point</div>
<div class="a" style="right:584.40px;top:648.04px;font-size:12px;color:#5a5a5a;font-family:'Liberation Sans', sans-serif;font-weight:normal;font-style:normal;">2,738</div>
<div class="a" style="right:525.00px;top:648.04px;font-size:12px;color:#5a5a5a;font-family:'Liberation Sans', sans-serif;font-weight:normal;font-style:normal;">2,639</div>
<div class="a" style="left:12.00px;top:983.37px;font-size:11.5px;color:#444;font-family:'Liberation Serif', serif;font-weight:normal;font-style:italic;word-spacing:3.5px;">Updated October 2025. Next Update: October 2026</div>
<div class="a" style="left:8.00px;top:998.87px;font-size:11.5px;color:#444;font-family:'Liberation Serif', serif;font-weight:normal;font-style:normal;word-spacing:2.25px;">*City and town population available for counties only.</div>
<div class="a" style="left:8.00px;top:1012.57px;font-size:11.5px;color:#444;font-family:'Liberation Serif', serif;font-weight:normal;font-style:normal;word-spacing:2.6px;">Source: U.S. Census Bureau. For more detailed information: <span style="color:#2d5fae;text-decoration:underline;letter-spacing:0.17px;">http://www.census.gov/popest/</span></div>
<div class="a" style="left:0;top:1035px;width:800px;height:27px;background:#f5f5f5;"></div>
<div class="a" style="left:55.20px;top:1042.74px;font-size:12px;color:#666;font-family:'Liberation Sans', sans-serif;font-weight:bold;font-style:normal;">View on Tableau Public</div>
<div class="a" style="left:733.00px;top:1042.74px;font-size:12px;color:#666;font-family:'Liberation Sans', sans-serif;font-weight:bold;font-style:normal;">Share</div>
<svg class="full" width="800" height="1062">
<path d="M38.2,1048.5H44.8M41.5,1045.2V1051.8" stroke="#333" stroke-width="1.0" fill="none"/>
<path d="M35.1,1044.4H39.699999999999996M37.4,1042.1000000000001V1046.7" stroke="#333" stroke-width="0.9" fill="none"/>
<path d="M35.1,1052.6H39.699999999999996M37.4,1050.3V1054.8999999999999" stroke="#333" stroke-width="0.9" fill="none"/>
<path d="M43.300000000000004,1044.4H47.9M45.6,1042.1000000000001V1046.7" stroke="#333" stroke-width="0.9" fill="none"/>
<path d="M43.300000000000004,1052.6H47.9M45.6,1050.3V1054.8999999999999" stroke="#333" stroke-width="0.9" fill="none"/>
<path d="M40.1,1041.4H42.9M41.5,1040.0V1042.8000000000002" stroke="#333" stroke-width="0.9" fill="none"/>
<path d="M40.1,1055.6H42.9M41.5,1054.1999999999998V1057.0" stroke="#333" stroke-width="0.9" fill="none"/>
<path d="M33.0,1048.5H35.8M34.4,1047.1V1049.9" stroke="#333" stroke-width="0.9" fill="none"/>
<path d="M47.2,1048.5H50.0M48.6,1047.1V1049.9" stroke="#333" stroke-width="0.9" fill="none"/>
<path d="M421.5,1043.6 H429.3 A6.3,6.3 0 0 1 429.3,1056.2 H421.2" stroke="#b5b5b5" stroke-width="1.2" fill="none"/>
<polygon points="419.8,1043.6 423,1041.3 423,1045.9" fill="#b5b5b5"/>
<path d="M474.5,1043.6 H466.3 A6.3,6.3 0 0 0 466.3,1056.2 H475" stroke="#b5b5b5" stroke-width="1.2" fill="none"/>
<polygon points="476.2,1043.6 473,1041.3 473,1045.9" fill="#b5b5b5"/>
<path d="M503.5,1043.6 H509.3 A6.3,6.3 0 0 1 509.3,1056.2 H501.2" stroke="#b5b5b5" stroke-width="1.2" fill="none"/>
<polygon points="501.8,1043.6 505,1041.3 505,1045.9" fill="#b5b5b5"/>
<line x1="500.3" y1="1041.2" x2="500.3" y2="1046" stroke="#b5b5b5" stroke-width="1.1"/>
<path d="M550,1045.8 H539.5 A3.4,3.4 0 0 0 539.5,1052.6 H548.8 A3.4,3.4 0 0 0 552.2,1049.2 V1048.5" stroke="#b5b5b5" stroke-width="1.2" fill="none"/>
<polygon points="552.4,1045.8 549.6,1043.5 549.6,1048.1" fill="#b5b5b5"/>
<polygon points="566.5,1047.7 573.4,1047.7 570,1051.8" fill="#b5b5b5"/>
<line x1="595.4" y1="1042.2" x2="595.4" y2="1054.6" stroke="#c4c4c4" stroke-width="1.1"/>
<path d="M627.8,1050.4 H623.6 A1,1 0 0 1 622.6,1049.4 V1042.6 A1,1 0 0 1 623.6,1041.6 H635.5 A1,1 0 0 1 636.5,1042.6 V1049.4 A1,1 0 0 1 635.5,1050.4 H631.2" stroke="#555" stroke-width="1.2" fill="none"/>
<line x1="629.5" y1="1048" x2="629.5" y2="1054.5" stroke="#555" stroke-width="1.2"/>
<polygon points="627.2,1053.8 631.8,1053.8 629.5,1056.8" fill="#555"/>
<polygon points="642.5,1047.2 649.4,1047.2 645.95,1051.6" fill="#555"/>
<path d="M673.6,1045 V1042.1 H676.5 M685.4,1042.1 H688.3 V1045 M688.3,1053.2 V1056.1 H685.4 M676.5,1056.1 H673.6 V1053.2" stroke="#555" stroke-width="1.2" fill="none"/>
<rect x="676.4" y="1044.3" width="9.1" height="9.1" rx="0.8" stroke="#555" stroke-width="1.2" fill="none"/>
<path d="M715.6,1047.4 L721.3,1044.8 M715.6,1049.6 L721.3,1053" stroke="#555" stroke-width="1.1" fill="none"/>
<circle cx="713.8" cy="1048.5" r="2.1" stroke="#555" stroke-width="1.1" fill="none"/>
<circle cx="723.1" cy="1043.8" r="2.1" stroke="#555" stroke-width="1.1" fill="none"/>
<circle cx="723.1" cy="1054.1" r="2.1" stroke="#555" stroke-width="1.1" fill="none"/>
</svg>
</body></html>
